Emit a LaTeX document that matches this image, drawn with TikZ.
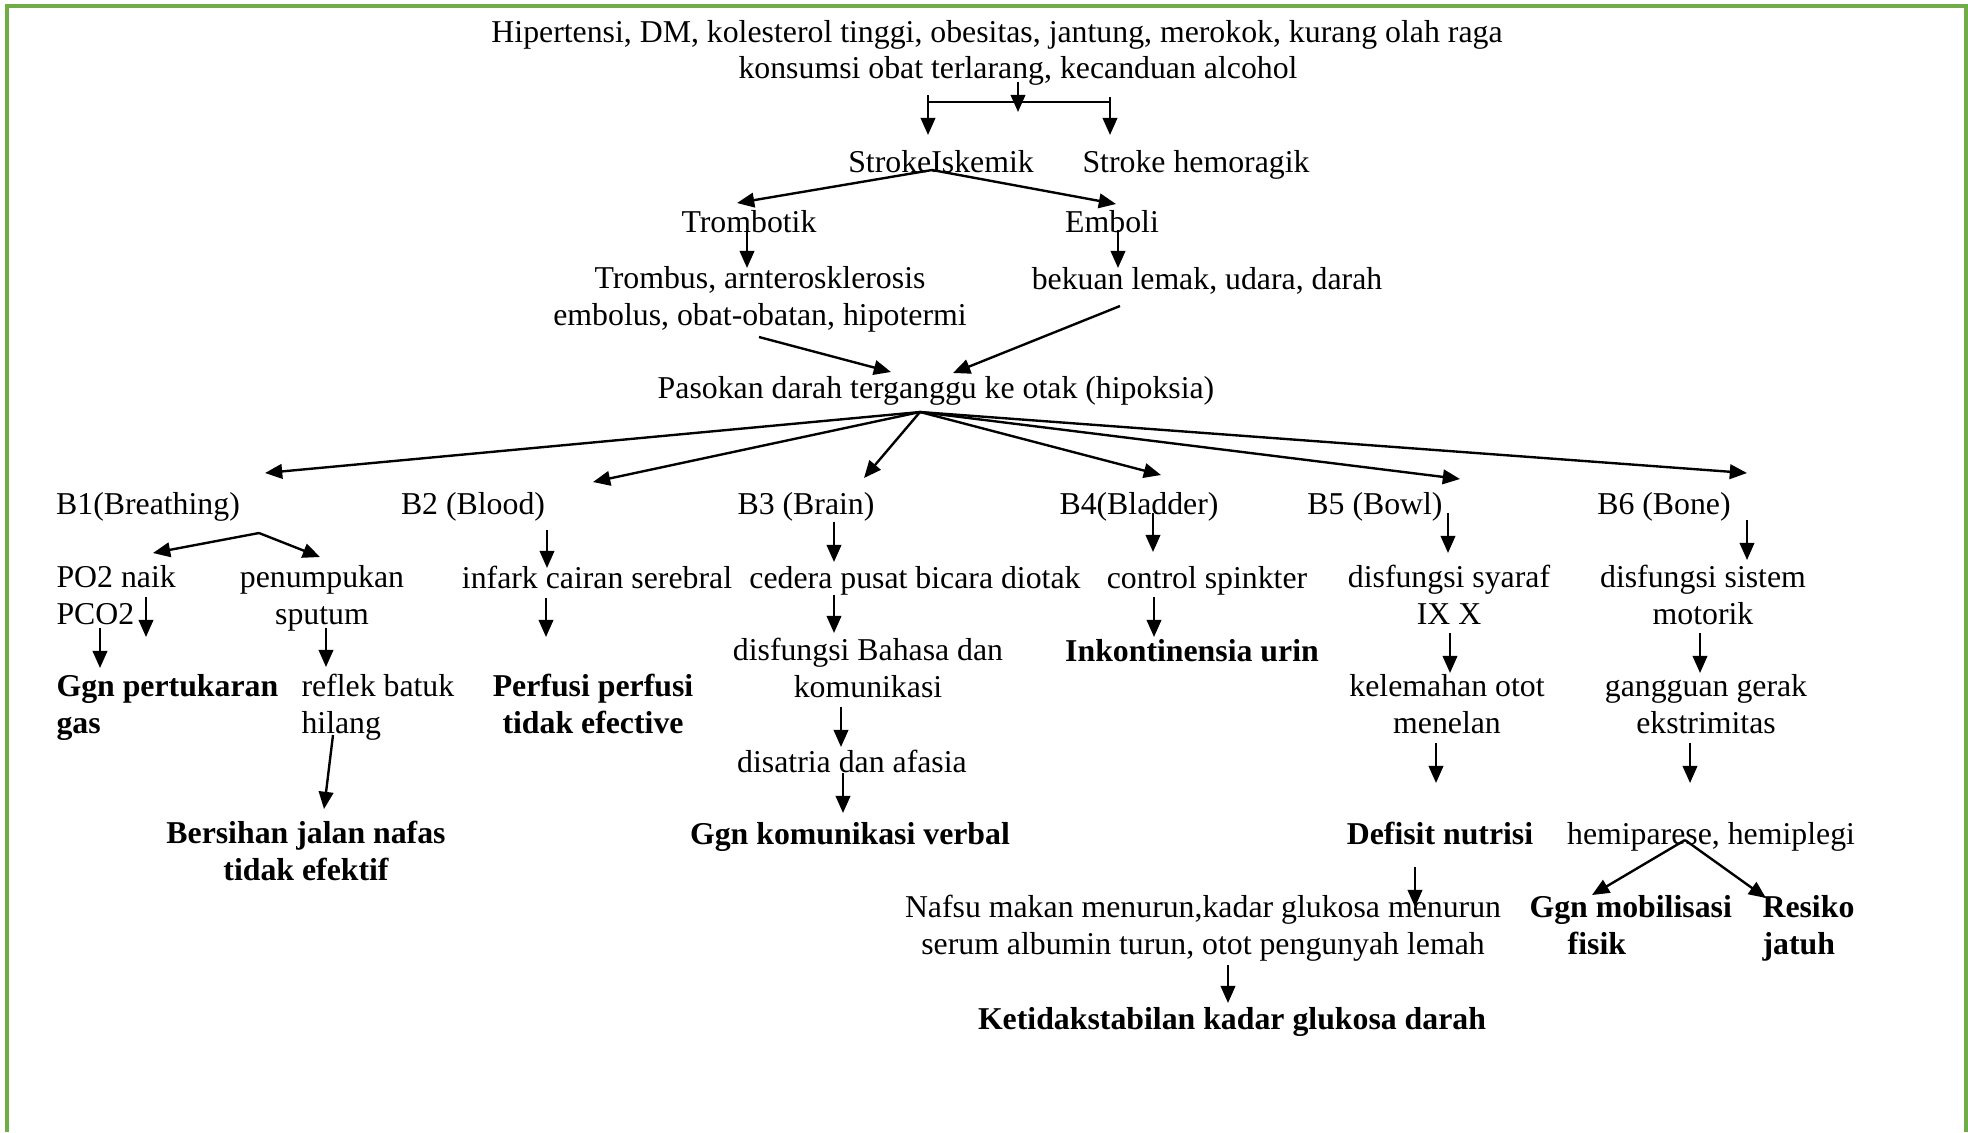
\documentclass[tikz,border=0pt]{standalone}
\usepackage{fontspec}
\setmainfont{Liberation Serif}
\usepackage{tikz}
\usetikzlibrary{arrows.meta}
\definecolor{page-frame}{HTML}{70AD47}

\begin{document}
\begin{tikzpicture}[x=0.3774pt,y=-0.3774pt,
	txt/.style={anchor=base,inner sep=0pt,align=center,font=\fontsize{12}{13.6}\selectfont},
	diag/.style={txt,font=\fontsize{12}{13.6}\selectfont\bfseries},
	arr/.style={-{Triangle[length=6.5pt,width=5.5pt]},line width=0.9pt}]
	\useasboundingbox (0,0) rectangle (1968,1132);
	\draw[page-frame,line width=1.3pt] (7,1132) -- (7,6) -- (1966,6) -- (1966,1132);

	% causes and stroke type (two-line nodes sit on the base of their last line)
	\node[txt] (risk1) at (997,42) {Hipertensi, DM, kolesterol tinggi, obesitas, jantung, merokok, kurang olah raga};
	\node[txt] (risk2) at (1018,78) {konsumsi obat terlarang, kecanduan alcohol};
	\node[txt] (iskemik) at (941,172) {StrokeIskemik};
	\node[txt] (hemoragik) at (1196,172) {Stroke hemoragik};
	\node[txt] (trombotik) at (749,232) {Trombotik};
	\node[txt] (emboli) at (1112,232) {Emboli};
	\node[txt] (trombus) at (760,325) {Trombus, arnterosklerosis\\embolus, obat-obatan, hipotermi};
	\node[txt] (bekuan) at (1207,289) {bekuan lemak, udara, darah};
	\node[txt] (pasokan) at (936,398) {Pasokan darah terganggu ke otak (hipoksia)};

	% B1 .. B6
	\node[txt] (b1) at (148,514) {B1(Breathing)};
	\node[txt] (b2) at (473,514) {B2 (Blood)};
	\node[txt] (b3) at (806,514) {B3 (Brain)};
	\node[txt] (b4) at (1139,514) {B4(Bladder)};
	\node[txt] (b5) at (1375,514) {B5 (Bowl)};
	\node[txt] (b6) at (1664,514) {B6 (Bone)};

	\node[txt,anchor=base west,align=left] (po2) at (56,624) {PO2 naik\\PCO2};
	\node[txt] (sputum) at (322,624) {penumpukan\\sputum};
	\node[txt] (infark) at (597,588) {infark cairan serebral};
	\node[txt] (cedera) at (915,588) {cedera pusat bicara diotak};
	\node[txt] (spinkter) at (1207,588) {control spinkter};
	\node[txt] (syaraf) at (1449,624) {disfungsi syaraf\\IX X};
	\node[txt] (motorik) at (1703,624) {disfungsi sistem\\motorik};

	\node[diag,anchor=base west,align=left] (gas) at (56,733) {Ggn pertukaran\\gas};
	\node[txt,anchor=base west,align=left] (reflek) at (301,733) {reflek batuk\\hilang};
	\node[diag] (perfusi) at (593,733) {Perfusi perfusi\\tidak efective};
	\node[txt] (bahasa) at (868,697) {disfungsi Bahasa dan\\komunikasi};
	\node[diag] (urin) at (1192,661) {Inkontinensia urin};
	\node[txt] (menelan) at (1447,733) {kelemahan otot\\menelan};
	\node[txt] (gerak) at (1706,733) {gangguan gerak\\ekstrimitas};
	\node[txt] (disatria) at (852,772) {disatria dan afasia};

	\node[diag] (nafas) at (306,880) {Bersihan jalan nafas\\tidak efektif};
	\node[diag] (verbal) at (850,844) {Ggn komunikasi verbal};
	\node[diag] (nutrisi) at (1440,844) {Defisit nutrisi};
	\node[txt] (hemi) at (1711,844) {hemiparese, hemiplegi};
	\node[txt] (nafsu) at (1203,954) {Nafsu makan menurun,kadar glukosa menurun\\serum albumin turun, otot pengunyah lemah};
	\node[diag,anchor=base west,align=left] (mobil) at (1529,954) {Ggn mobilisasi\\\hspace*{1.2em}fisik};
	\node[diag,anchor=base west,align=left] (jatuh) at (1762,954) {Resiko\\jatuh};
	\node[diag] (glukosa) at (1232,1029) {Ketidakstabilan kadar glukosa darah};

	% arrow ends
	\coordinate (risk out) at (1018,82);
	\coordinate (risk in) at (1018,112);
	\coordinate (bar l) at (928,95);
	\coordinate (bar r) at (1110,97);
	\coordinate (isk in) at (928,135);
	\coordinate (hem in) at (1110,135);
	\coordinate (isk out) at (932,170);
	\coordinate (tromb in) at (737,203);
	\coordinate (emb in) at (1116,204);
	\coordinate (tromb out) at (747,230);
	\coordinate (trombus in) at (747,268);
	\coordinate (emb out) at (1118,230);
	\coordinate (bekuan in) at (1118,268);
	\coordinate (trombus out) at (759,337);
	\coordinate (bekuan out) at (1120,306);
	\coordinate (pas in l) at (891,372);
	\coordinate (pas in r) at (953,373);
	\coordinate (pas out) at (920,412);
	\coordinate (b1 in) at (265,473);
	\coordinate (b2 in) at (593,482);
	\coordinate (b3 in) at (864,478);
	\coordinate (b4 in) at (1161,475);
	\coordinate (b5 in) at (1460,479);
	\coordinate (b6 in) at (1747,473);
	\coordinate (b1 out) at (259,533);
	\coordinate (po2 in) at (153,553);
	\coordinate (sputum in) at (320,557);

	\draw[line width=0.9pt] (bar l) -- (bar l |- 0,102) -- (bar r |- 0,102) -- (bar r);
	\draw[arr] (risk out) -- (risk in);
	\draw[arr] (bar l) -- (isk in);
	\draw[arr] (bar r) -- (hem in);
	\draw[arr] (isk out) -- (tromb in);
	\draw[arr] (isk out) -- (emb in);
	\draw[arr] (tromb out) -- (trombus in);
	\draw[arr] (emb out) -- (bekuan in);
	\draw[arr] (trombus out) -- (pas in l);
	\draw[arr] (bekuan out) -- (pas in r);
	\foreach \b in {b1,b2,b3,b4,b5,b6}
		\draw[arr] (pas out) -- (\b\space in);
	\draw[arr] (b1 out) -- (po2 in);
	\draw[arr] (b1 out) -- (sputum in);

	% straight drops: x, top, bottom
	\foreach \x/\ya/\yb in {146/597/637, 100/628/668, 326/628/667, 547/530/568, 546/598/637,
		834/522/562, 834/595/633, 841/707/747, 843/773/813, 1153/513/552, 1154/597/637,
		1448/513/553, 1450/633/673, 1436/743/783, 1747/520/560, 1700/633/673, 1690/743/783,
		1415/867/907, 1228/965/1003}
		\draw[arr] (\x,\ya) -- (\x,\yb);

	\coordinate (reflek out) at (333,735);
	\coordinate (nafas in) at (324,809);
	\coordinate (hemi out) at (1685,840);
	\coordinate (mobil in) at (1592,895);
	\coordinate (jatuh in) at (1766,898);
	\draw[arr] (reflek out) -- (nafas in);
	\draw[arr] (hemi out) -- (mobil in);
	\draw[arr] (hemi out) -- (jatuh in);
\end{tikzpicture}
\end{document}
